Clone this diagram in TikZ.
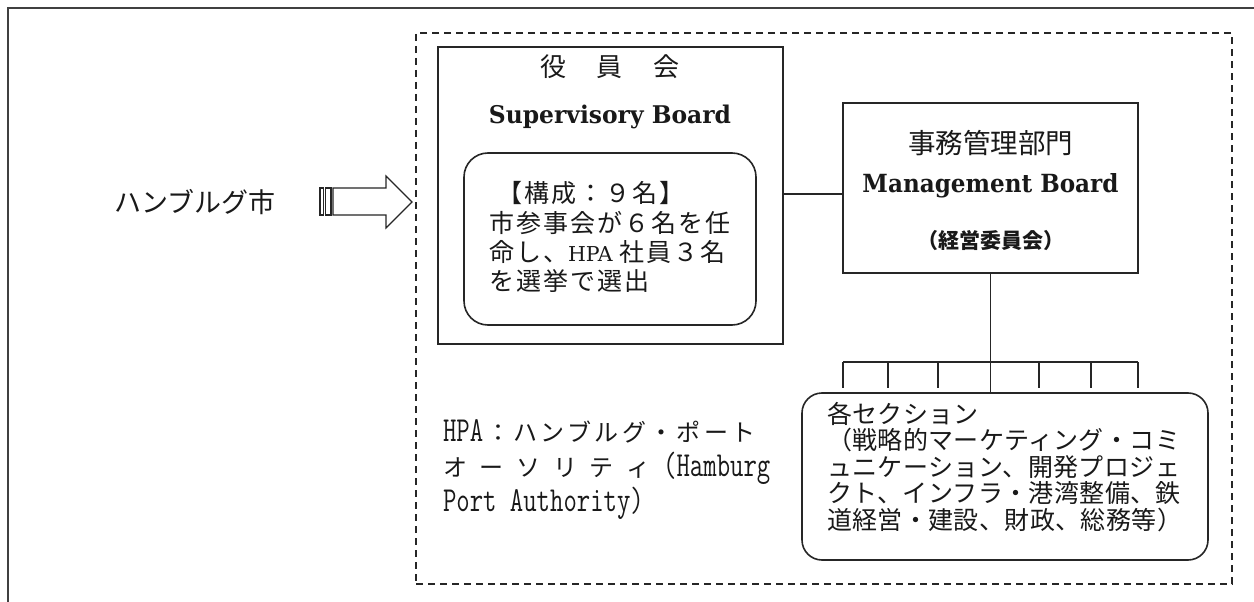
\documentclass[tikz,border=0pt]{standalone}
\usepackage{fontspec}
\usepackage{graphicx}
\newfontfamily\jp{Noto Sans CJK JP}
\newfontfamily\jpa[LetterSpace=8]{Noto Sans CJK JP}
\newfontfamily\jpb[LetterSpace=1.6]{Noto Sans CJK JP}
\newfontfamily\jpc[LetterSpace=14]{Noto Sans CJK JP}
\newfontfamily\dvs{DejaVu Serif}
\newcommand{\kbx}[1]{\makebox[36.7pt][l]{#1}}
\newcommand{\tallmono}[1]{\scalebox{1}[1.35]{\ttfamily #1}}
\begin{document}
\begin{tikzpicture}[x=1pt,y=-1pt,
  every node/.style={inner sep=0pt, outer sep=0pt},
  lnk/.style={draw=black!85, line width=1.6pt},
  boxnode/.style={lnk, rectangle},
  roundnode/.style={lnk, rectangle, rounded corners=#1},
  txt/.style={text=black!90},
]
\useasboundingbox (0,0) rectangle (1254,602);
\clip (0,0) rectangle (1254,602);
\fill[white] (0,0) rectangle (1254,602);
% outer frame (cropped)
\draw[black!75, line width=1.5pt] (8,610) -- (8,8) -- (1262,8);
% dashed HPA frame
\node[lnk, rectangle, dash pattern=on 7pt off 5pt, line width=1.5pt, minimum width=816, minimum height=551] (hpa) at (824,308.5) {};
% city + arrow
\node[txt, anchor=base, font=\jp\fontsize{27}{27}\selectfont] (city) at (195,212) {ハンブルグ市};
\draw[lnk, line width=1.2pt, line join=miter] (333,188) -- (386,188) -- (386,176) -- (412,202) -- (386,228) -- (386,215) -- (333,215) -- cycle;
\draw[lnk, line width=1.2pt] (320,188) rectangle (323.5,215);
\draw[lnk, line width=1.2pt] (325.5,188) rectangle (331,215);
% supervisory board
\node[boxnode, minimum width=345, minimum height=297] (sb) at (610.5,195.5) {};
\node[txt, anchor=base, font=\jp\fontsize{26}{26}\selectfont] (yk) at (610,77) {役\hspace{31pt}員\hspace{31pt}会};
\node[txt, anchor=base] (sbt) at (610,124) {\resizebox{242pt}{18.5pt}{\dvs\bfseries Supervisory Board}};
\node[roundnode=24, minimum width=292, minimum height=172] (inner) at (610,239) {};
\node[txt, anchor=base west, font=\jpa\fontsize{25}{25}\selectfont] (i1) at (497,202) {【構成：９名】};
\node[txt, anchor=base west, font=\jpa\fontsize{25}{25}\selectfont] (i2) at (489,232) {市参事会が６名を任};
\node[txt, anchor=base west, font=\jpa\fontsize{25}{25}\selectfont] (i3) at (489,261) {命し、{\dvs\fontsize{20.5}{20.5}\selectfont HPA\hspace{7pt}}社員３名};
\node[txt, anchor=base west, font=\jpa\fontsize{25}{25}\selectfont] (i4) at (489,290) {を選挙で選出};
% management board
\node[boxnode, minimum width=295, minimum height=170] (mb) at (990.5,188) {};
\node[txt, anchor=base, font=\jp\fontsize{27.5}{27.5}\selectfont] (mbj) at (990.5,153) {事務管理部門};
\node[txt, anchor=base] (mbe) at (990.5,192) {\resizebox{256pt}{19pt}{\dvs\bfseries Management Board}};
\node[txt, anchor=base, font=\jp\bfseries\fontsize{21}{21}\selectfont] (mbk) at (990.5,248) {（経営委員会）};
% sections
\node[roundnode=20, minimum width=406, minimum height=167] (sec) at (1005,476.5) {};
\node[txt, anchor=base west, font=\jpb\fontsize{25}{25}\selectfont] (s1) at (827,423) {各セクション};
\node[txt, anchor=base west, font=\jpb\fontsize{25}{25}\selectfont] (s2) at (827,449.5) {（戦略的マーケティング・コミ};
\node[txt, anchor=base west, font=\jpb\fontsize{25}{25}\selectfont] (s3) at (827,476) {ュニケーション、開発プロジェ};
\node[txt, anchor=base west, font=\jpb\fontsize{25}{25}\selectfont] (s4) at (827,502.5) {クト、インフラ・港湾整備、鉄};
\node[txt, anchor=base west, font=\jpb\fontsize{25}{25}\selectfont] (s5) at (827,529) {道経営・建設、財政、総務等）};
% HPA note
\node[txt, anchor=base west] (h1a) at (443,441) {\fontsize{26}{26}\selectfont\tallmono{HPA}};
\node[txt, anchor=base west, font=\jpc\fontsize{24}{24}\selectfont] (h1b) at (486,441) {：ハンブルグ・ポート};
\node[txt, anchor=base west, font=\jp\fontsize{24}{24}\selectfont] (h2) at (443,476) {\kbx{オ}\kbx{ー}\kbx{ソ}\kbx{リ}\kbx{テ}\kbx{ィ}\fontsize{26}{26}\selectfont\tallmono{(Hamburg}};
\node[txt, anchor=base west] (h3) at (443,511) {\fontsize{26}{26}\selectfont\tallmono{Port Authority)}};
% connectors
\coordinate (cy) at (800,194);
\draw[lnk] (sb.east |- cy) -- (mb.west |- cy);
\draw[lnk] (mb.south) -- (mb.south |- sec.north);
\coordinate (busL) at (843,362);
\coordinate (busR) at (1138,362);
\draw[lnk] (busL) -- (busR);
\foreach \x in {843,888,938,1039,1091,1138} \draw[lnk] (\x,362) -- (\x,388);
\end{tikzpicture}
\end{document}
